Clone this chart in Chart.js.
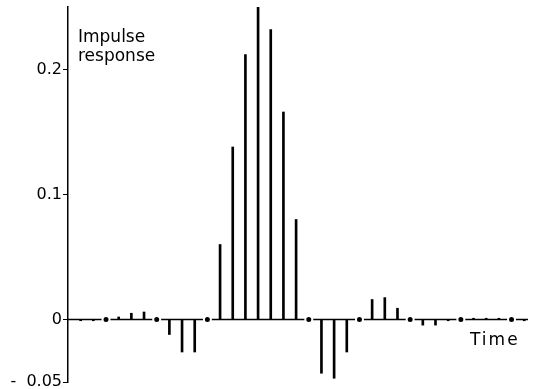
<!DOCTYPE html>
<html>
<head>
<meta charset="utf-8">
<script src="https://cdn.jsdelivr.net/npm/chart.js@4.4.1/dist/chart.umd.min.js"></script>
<style>
  html, body { margin: 0; padding: 0; background: #fff; }
  canvas { display: block; }
</style>
</head>
<body>
<canvas id="grafico" width="534" height="389"></canvas>
<script>
// amostras da resposta ao impulso (índice de tempo e valor)
const amostras = [1, 2, 3, 4, 5, 6, 7, 8, 9, 10, 11, 12, 13, 14, 15, 16, 17, 18,
                  19, 20, 21, 22, 23, 24, 25, 26, 27, 28, 29, 30, 31, 32, 33, 34, 35, 36];
const valores = [-0.001, -0.001, 0, 0.002, 0.005, 0.006, 0, -0.012, -0.026, -0.026, 0,
                 0.060, 0.138, 0.212, 0.250, 0.232, 0.166, 0.080, 0,
                 -0.043, -0.047, -0.026, 0, 0.016, 0.0175, 0.009, 0,
                 -0.0045, -0.0045, -0.001, 0, 0.001, 0.001, 0.001, 0, -0.001];
// amostras em que a resposta é exatamente zero (marcadas com ponto)
const zeros = [3, 7, 11, 19, 23, 27, 31, 35];
const ticksY = [-0.05, 0, 0.1, 0.2];
const limiteX = [0, 36.3];
const limiteY = [-0.05, 0.25];

const fonte = '"DejaVu Sans", sans-serif';

// Plugin simples para os rótulos dentro do gráfico
const rotulos = {
    id: 'rotulos',
    afterDraw(chart) {
        const ctx = chart.ctx;
        const area = chart.chartArea;
        ctx.save();
        ctx.fillStyle = '#000';
        ctx.textAlign = 'left';
        ctx.textBaseline = 'alphabetic';
        ctx.font = '17px ' + fonte;
        ctx.fillText('Impulse', area.left + 10, 42);
        ctx.fillText('response', area.left + 10, 61);
        ctx.font = '17px ' + fonte;
        ctx.letterSpacing = '2px';
        ctx.fillText('Time', 470, 345);
        ctx.restore();
    }
};

const ctx = document.getElementById('grafico').getContext('2d');
new Chart(ctx, {
    type: 'bar',
    data: {
        datasets: [
            {
                type: 'scatter',
                label: 'zeros',
                data: zeros.map(x => ({ x: x, y: 0 })),
                pointRadius: 3.5,
                pointBackgroundColor: '#000',
                pointBorderColor: '#fff',
                pointBorderWidth: 2,
                order: 0
            },
            {
                type: 'bar',
                label: 'resposta',
                data: amostras.map((x, i) => ({ x: x, y: valores[i] })),
                backgroundColor: '#000',
                barThickness: 2,
                order: 1
            },
            {
                type: 'line',
                label: 'base',
                data: limiteX.map(x => ({ x: x, y: 0 })),
                borderColor: '#000',
                borderWidth: 1.5,
                pointRadius: 0,
                order: 2
            }
        ]
    },
    options: {
        responsive: false,
        animation: false,
        devicePixelRatio: 1,
        layout: { padding: { top: 7, bottom: 7, right: 6, left: 0 } },
        plugins: {
            legend: { display: false },
            tooltip: { enabled: false }
        },
        scales: {
            x: {
                type: 'linear',
                display: false,
                min: limiteX[0],
                max: limiteX[1],
                offset: false
            },
            y: {
                min: limiteY[0],
                max: limiteY[1],
                afterBuildTicks: scale => {
                    scale.ticks = ticksY.map(v => ({ value: v }));
                },
                afterFit: scale => {
                    scale.width = 68;
                    scale.paddingTop = 0;
                    scale.paddingBottom = 0;
                },
                border: { display: true, color: '#000', width: 1.5 },
                grid: {
                    drawOnChartArea: false,
                    drawTicks: true,
                    tickLength: 5,
                    color: '#000',
                    tickColor: '#000'
                },
                ticks: {
                    color: '#000',
                    padding: 1,
                    font: { family: fonte, size: 16 },
                    callback: v => (v === -0.05 ? '-  0.05' : String(v))
                }
            }
        }
    },
    plugins: [rotulos]
});
</script>
</body>
</html>
